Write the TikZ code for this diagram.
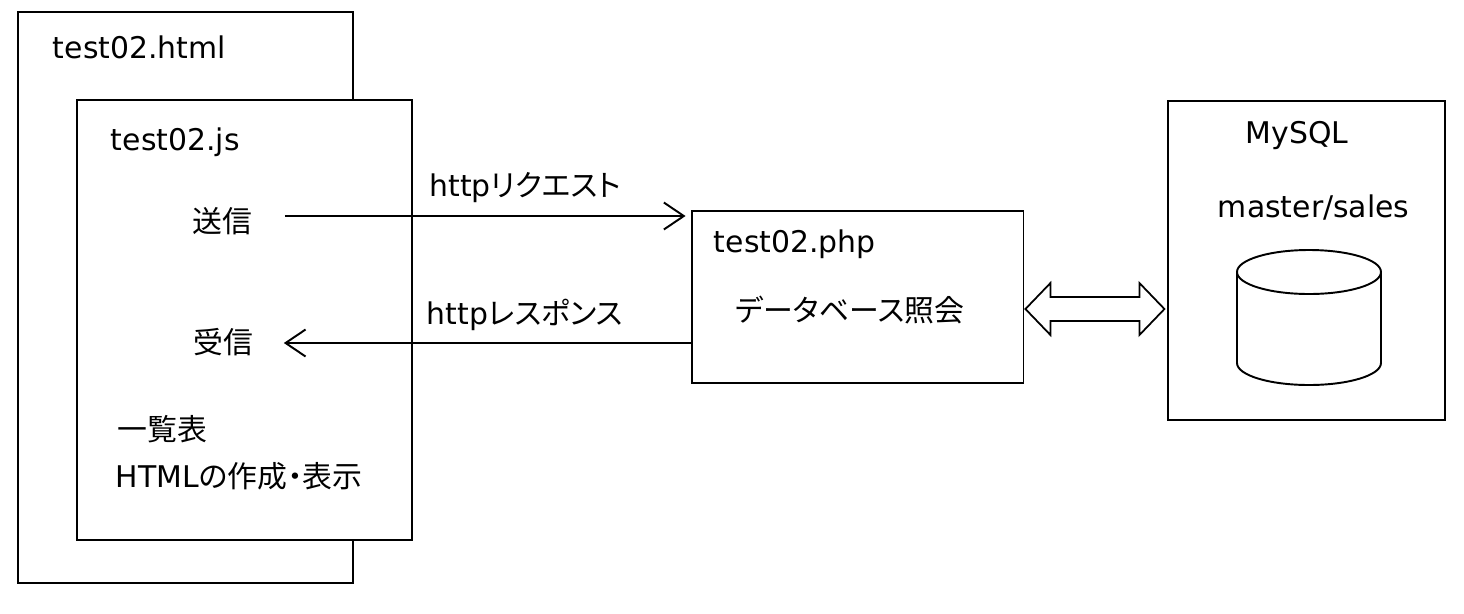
\documentclass[tikz,border=0pt]{standalone}
\usepackage{fontspec}
\setmainfont{DejaVu Sans}
\newfontfamily\jp[RawFeature=+palt]{Noto Sans CJK JP}
\usetikzlibrary{arrows.meta,calc}

\begin{document}
\begin{tikzpicture}[x=0.02cm,y=-0.02cm,>={Straight Barb[length=4mm,width=5.4mm]},line width=1.1pt,font=\fontsize{17}{20}\selectfont]
	\tikzstyle{box}=[draw,rectangle,fill=white,inner sep=0pt]
	\tikzstyle{txt}=[inner sep=0pt]
	\useasboundingbox (0,0) rectangle (1464,613);
	
	\node[box,minimum width=6.7cm,minimum height=11.42cm] (html) at (185.5,297.5) {};
	\node[box,minimum width=6.7cm,minimum height=8.8cm] (js) at (244.5,320) {};
	\node[box,minimum width=6.64cm,minimum height=3.44cm] (php) at (857.5,297) {};
	\node[box,minimum width=5.54cm,minimum height=6.38cm] (mysql) at (1306.5,260.5) {};
	
	\node[txt,anchor=base west] (htmltitle) at (52,58) {test02.html};
	\node[txt,anchor=base west] (jstitle) at (110,150) {test02.js};
	\node[txt] (send) at (222,221) {\jp 送信};
	\node[txt] (recv) at (223,342) {\jp 受信};
	\node[txt,anchor=west] (list) at (117,429) {\jp 一覧表};
	\node[txt,anchor=west] (make) at (115,476) {HTML{\jp の作成・表示}};
	\node[txt] (req) at (525,188) {http{\jp リクエスト}};
	\node[txt] (res) at (525,315) {http{\jp レスポンス}};
	\node[txt,anchor=base west] (phptitle) at (713,252) {test02.php};
	\node[txt] (query) at (850,310) {\jp データベース照会};
	\node[txt,anchor=base west] (dbtitle) at (1245,143) {MySQL};
	\node[txt,anchor=base west] (tables) at (1217,217) {master/sales};
	
	% database cylinder
	\draw[fill=white] (1237,272) -- (1237,363) arc[start angle=180,end angle=0,x radius=72,y radius=22] -- (1381,272);
	\draw (1309,272) ellipse[x radius=72,y radius=22];
	
	\draw[->] ($(send.east)+(32,-5)$) -- ($(send.east -| php.west)+(-5,-5)$);
	\draw[->] ($(recv.east -| php.west)+(0,1)$) -- ($(recv.east)+(30,1)$);
	
	% php <-> mysql
	\draw[line width=1pt] ($(php.east)+(1,12)$) -- ++(25,-26) -- ++(0,14) -- ++(89,0) -- ++(0,-14) -- ++(25,26)
	-- ++(-25,26) -- ++(0,-14) -- ++(-89,0) -- ++(0,14) -- cycle;
\end{tikzpicture}
\end{document}
